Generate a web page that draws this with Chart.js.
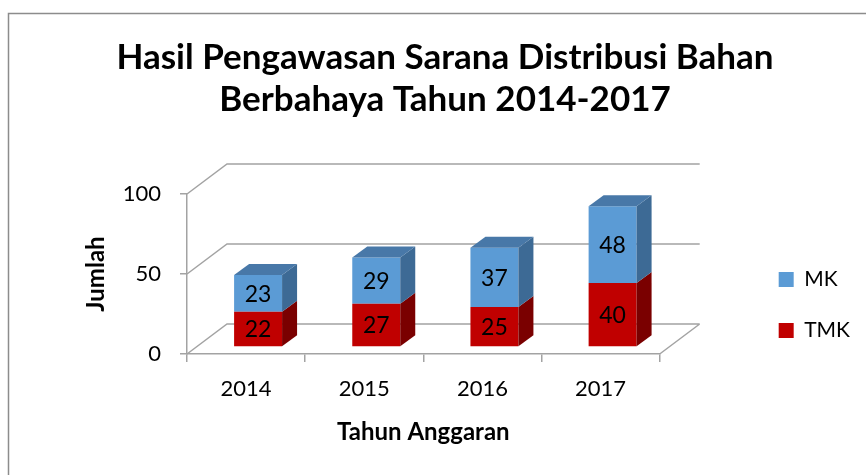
<!DOCTYPE html>
<html>
<head>
<meta charset="utf-8">
<script src="https://cdn.jsdelivr.net/npm/chart.js@4"></script>
<style>
  html, body { margin: 0; padding: 0; background: #fff; }
  canvas { display: block; }
</style>
</head>
<body>
<canvas id="chart" width="866" height="475"></canvas>
<script>
const years = ['2014', '2015', '2016', '2017'];
const tmkValues = [22, 27, 25, 40];
const mkValues = [23, 29, 37, 48];
const yTickValues = [0, 50, 100];
const titleLines = ['Hasil Pengawasan Sarana Distribusi Bahan', 'Berbahaya Tahun 2014-2017'];

Chart.defaults.font.family = 'Lato, "Open Sans", sans-serif';
Chart.defaults.color = '#000';

const gridColor = '#A3A3A3';
const wallDepth = { x: 40, y: -30 };
const barShift = { x: 12, y: -7 };
const barDepth = { x: 15, y: -11 };

const box3d = {
  id: 'box3d',
  beforeDraw(chart) {
    const ctx = chart.ctx;
    ctx.save();
    ctx.fillStyle = '#fff';
    ctx.fillRect(0, 0, chart.width, chart.height);
    ctx.strokeStyle = '#8C8C8C';
    ctx.lineWidth = 1.5;
    ctx.strokeRect(8.5, 13.5, chart.width + 20, chart.height + 20);
    ctx.restore();
  },
  beforeDatasetsDraw(chart) {
    const ctx = chart.ctx;
    const { left, right, bottom } = chart.chartArea;
    const y = chart.scales.y;
    ctx.save();
    ctx.strokeStyle = gridColor;
    ctx.lineWidth = 1.5;
    ctx.beginPath();
    yTickValues.forEach(v => {
      const py = y.getPixelForValue(v);
      ctx.moveTo(left, py);
      ctx.lineTo(left + wallDepth.x, py + wallDepth.y);
      ctx.lineTo(right + wallDepth.x, py + wallDepth.y);
    });
    ctx.moveTo(right, bottom);
    ctx.lineTo(right + wallDepth.x, bottom + wallDepth.y);
    ctx.stroke();
    ctx.restore();
    // bars sit a bit back from the front plane
    ctx.save();
    ctx.translate(barShift.x, barShift.y);
  },
  afterDatasetsDraw(chart) {
    const ctx = chart.ctx;
    const last = chart.data.datasets.length - 1;
    chart.data.datasets.forEach((ds, di) => {
      const meta = chart.getDatasetMeta(di);
      meta.data.forEach((bar, i) => {
        const p = bar.getProps(['x', 'y', 'base', 'width'], true);
        const l = p.x - p.width / 2, r = p.x + p.width / 2;
        const top = Math.min(p.y, p.base), bot = Math.max(p.y, p.base);
        ctx.fillStyle = ds.sideColor;
        ctx.beginPath();
        ctx.moveTo(r, top);
        ctx.lineTo(r + barDepth.x, top + barDepth.y);
        ctx.lineTo(r + barDepth.x, bot + barDepth.y);
        ctx.lineTo(r, bot);
        ctx.closePath();
        ctx.fill();
        if (di === last) {
          ctx.fillStyle = ds.topColor;
          ctx.beginPath();
          ctx.moveTo(l, top);
          ctx.lineTo(l + barDepth.x, top + barDepth.y);
          ctx.lineTo(r + barDepth.x, top + barDepth.y);
          ctx.lineTo(r, top);
          ctx.closePath();
          ctx.fill();
        }
        ctx.fillStyle = '#000';
        ctx.font = '23px Lato, "Open Sans", sans-serif';
        ctx.textAlign = 'center';
        ctx.textBaseline = 'middle';
        ctx.fillText(String(ds.data[i]), p.x, (top + bot) / 2 + 1);
      });
    });
    ctx.restore();
  },
  afterLayout(chart) {
    // legend sits lower than chart.js centres it
    const lg = chart.legend;
    lg.top += 31;
    lg.bottom += 31;
  }
};

new Chart(document.getElementById('chart'), {
  type: 'bar',
  data: {
    labels: years,
    datasets: [
      {
        label: 'TMK',
        data: tmkValues,
        backgroundColor: '#C00000',
        sideColor: '#7A0000',
        topColor: '#9E0000',
        borderWidth: 0
      },
      {
        label: 'MK',
        data: mkValues,
        backgroundColor: '#5B9BD5',
        sideColor: '#3D6A95',
        topColor: '#4878A8',
        borderWidth: 0
      }
    ]
  },
  options: {
    responsive: false,
    animation: false,
    clip: false,
    barPercentage: 0.406,
    categoryPercentage: 1,
    layout: { padding: { left: 30, right: 6, top: 0, bottom: 10 } },
    plugins: {
      title: {
        display: true,
        text: titleLines,
        color: '#000',
        font: { size: 35, weight: 'bold', lineHeight: '42px' },
        padding: { top: 37, bottom: 73 }
      },
      legend: {
        position: 'right',
        fullSize: false,
        reverse: true,
        labels: {
          boxWidth: 15,
          boxHeight: 15,
          padding: 30,
          font: { size: 21 },
          color: '#000'
        }
      },
      tooltip: { enabled: false }
    },
    scales: {
      x: {
        stacked: true,
        grid: { offset: true, drawOnChartArea: false, tickLength: 8, color: gridColor, lineWidth: 1.5 },
        border: { color: gridColor, width: 1.5 },
        ticks: { font: { size: 22 }, padding: 14, color: '#000' },
        title: { display: true, text: 'Tahun Anggaran', font: { size: 24, weight: 'bold' }, padding: { bottom: 18 }, color: '#000' },
        afterFit: s => { s.height = 111; }
      },
      y: {
        stacked: true,
        min: 0,
        max: 100,
        ticks: { stepSize: 50, font: { size: 22 }, padding: 19, color: '#000' },
        grid: { drawOnChartArea: false, tickLength: 7, color: gridColor, lineWidth: 1.5 },
        border: { color: gridColor, width: 1.5 },
        title: { display: true, text: 'Jumlah', font: { size: 24, weight: 'bold' }, padding: { top: 52 }, color: '#000' },
        afterFit: s => { s.width = 157; }
      },
      spacer: {
        type: 'linear',
        position: 'right',
        display: true,
        grid: { display: false },
        border: { display: false },
        ticks: { display: false },
        afterFit: s => { s.width = 89; }
      }
    }
  },
  plugins: [box3d]
});
</script>
</body>
</html>
